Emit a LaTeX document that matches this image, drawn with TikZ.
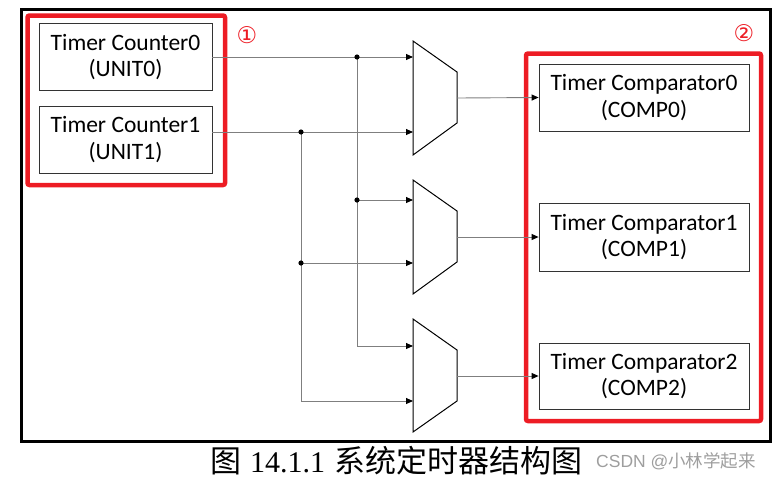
\documentclass[tikz,border=0pt]{standalone}
\usepackage{fontspec}
\setmainfont{Carlito}
\newfontfamily\cjk{Noto Sans CJK SC}
\newfontfamily\capserif{Liberation Serif}
\newfontfamily\symf{DejaVu Sans}
\newfontfamily\wmfont{Liberation Sans}
\usetikzlibrary{arrows.meta}
\definecolor{hlred}{HTML}{ED1C24}
\definecolor{wiregray}{HTML}{7F7F7F}
\begin{document}
\begin{tikzpicture}[x=1pt,y=-1pt,
  blockbox/.style={draw=black!80, line width=0.8pt, align=center, inner sep=0pt,
    font=\fontsize{23.5}{26.5}\selectfont, text=black},
  wire/.style={draw=wiregray, line width=0.9pt},
  arr/.style={wire, -{Triangle[length=7pt,width=6pt,color=black]}},
  muxshape/.style={draw=black, line width=1pt, line join=miter},
  hlframe/.style={draw=hlred, line width=4.5pt, rounded corners=2pt},
  dotst/.style={fill=black},
  marknum/.style={text=hlred, font=\symf\fontsize{23}{23}\selectfont}
]
\useasboundingbox (0,0) rectangle (782,480);

% outer frame
\draw[line width=3pt] (21,9) rectangle (770.5,441);

% red highlight frames
\draw[hlframe] (27.5,15.5) rectangle (225,185);
\draw[hlframe] (526,53.5) rectangle (761,421);
\node[marknum] (n1) at (247,35) {①};
\node[marknum] (n2) at (744,33) {②};

% counters
\node[blockbox, minimum width=173pt, minimum height=67pt] (c0) at (125.5,57) {Timer Counter0\\(UNIT0)};
\node[blockbox, minimum width=173pt, minimum height=67pt] (c1) at (125.5,139.5) {Timer Counter1\\(UNIT1)};

% comparators
\node[blockbox, minimum width=210pt, minimum height=67pt] (k0) at (644,97.5) {Timer Comparator0\\(COMP0)};
\node[blockbox, minimum width=210pt, minimum height=68pt] (k1) at (644,237) {Timer Comparator1\\(COMP1)};
\node[blockbox, minimum width=210pt, minimum height=66pt] (k2) at (644,376) {Timer Comparator2\\(COMP2)};

% multiplexers
\draw[muxshape] (413,41) -- (457,72) -- (457,123) -- (413,155) -- cycle;
\draw[muxshape] (413,180) -- (457,211) -- (457,262) -- (413,294) -- cycle;
\draw[muxshape] (413,319) -- (457,350) -- (457,401) -- (413,432) -- cycle;
\coordinate (m0a) at (413,57);
\coordinate (m0b) at (413,132);
\coordinate (m0o) at (457,98);
\coordinate (m1a) at (413,200);
\coordinate (m1b) at (413,263);
\coordinate (m1o) at (457,237);
\coordinate (m2a) at (413,346);
\coordinate (m2b) at (413,401);
\coordinate (m2o) at (457,376);

% junctions
\coordinate (j0) at (357,57);
\coordinate (j1) at (357,200);
\coordinate (j2) at (301,132);
\coordinate (j3) at (301,263);

% wires
\draw[arr] (c0.east) -- (m0a);
\draw[arr] (c1.east |- m0b) -- (m0b);
\draw[arr] (j0) |- (m2a);
\draw[arr] (j1) -- (m1a);
\draw[arr] (j2) |- (m2b);
\draw[arr] (j3) -- (m1b);
\draw[arr] (m0o) -- (k0.west);
\draw[arr] (m1o) -- (k1.west);
\draw[arr] (m2o) -- (k2.west);
\foreach \j in {j0,j1,j2,j3} \fill[dotst] (\j) circle (2.6pt);

% caption
\node[anchor=west, inner sep=0pt] (cap) at (210,461)
  {{\cjk\fontsize{31}{31}\selectfont 图}\kern9pt{\capserif\fontsize{30}{30}\selectfont 14.1.1}\kern9pt{\cjk\fontsize{31}{31}\selectfont 系统定时器结构图}};
\node[anchor=west, inner sep=0pt, text=black!38, font=\wmfont\fontsize{17.5}{17.5}\selectfont] (wm) at (596,461)
  {CSDN @{\cjk 小林学起来}};
\end{tikzpicture}
\end{document}
